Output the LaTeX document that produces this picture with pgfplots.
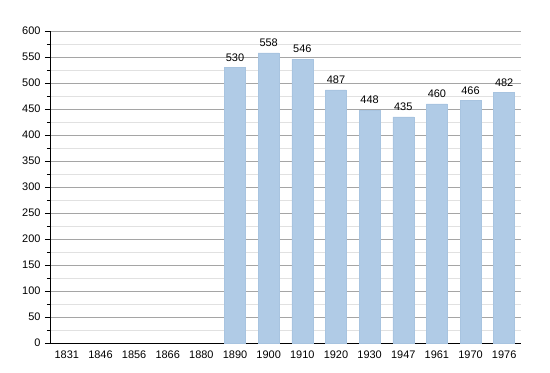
\documentclass[border=0pt]{standalone}
\usepackage{pgfplots}
\pgfplotsset{compat=1.18}
\usepackage{fontspec}
\setmainfont{Liberation Sans}
\definecolor{barfill}{RGB}{176,203,230}
\definecolor{baredge}{RGB}{168,196,224}
\definecolor{majgrid}{RGB}{165,165,165}
\definecolor{mingrid}{RGB}{225,225,225}
\begin{document}
\begin{tikzpicture}
\path[use as bounding box] (0,0) rectangle (550bp,373bp);
\begin{axis}[
  at={(50bp,30bp)}, anchor=south west,
  scale only axis, width=471bp, height=312bp,
  xmin=-0.5, xmax=13.5, ymin=0, ymax=600,
  axis x line*=bottom, axis y line*=left,
  axis line style={black, line width=0.8pt, -},
  xtick={0,...,13},
  xticklabels={1831,1846,1856,1866,1880,1890,1900,1910,1920,1930,1947,1961,1970,1976},
  x tick style={draw=none},
  ytick={0,50,...,600},
  minor ytick={25,75,...,575},
  ymajorgrids, yminorgrids,
  major grid style={majgrid, line width=0.6pt},
  minor grid style={mingrid, line width=0.6pt},
  y tick style={black, line width=0.6pt},
  major tick length=5bp, minor tick length=3bp,
  tick align=outside,
  ticklabel style={font=\fontsize{11}{12}\selectfont},
  /pgf/number format/assume math mode=true,
  yticklabel style={xshift=-1bp},
  xticklabel style={yshift=1bp},
  nodes near coords,
  every node near coord/.append style={font=\fontsize{11}{12}\selectfont, black, yshift=2.5bp},
  clip=false,
]
\addplot[ybar, bar width=21bp, fill=barfill, draw=baredge, line width=0.4pt] coordinates {
(5,530) (6,558) (7,546) (8,487) (9,448) (10,435) (11,460) (12,466) (13,482)
};
\end{axis}
\end{tikzpicture}
\end{document}
